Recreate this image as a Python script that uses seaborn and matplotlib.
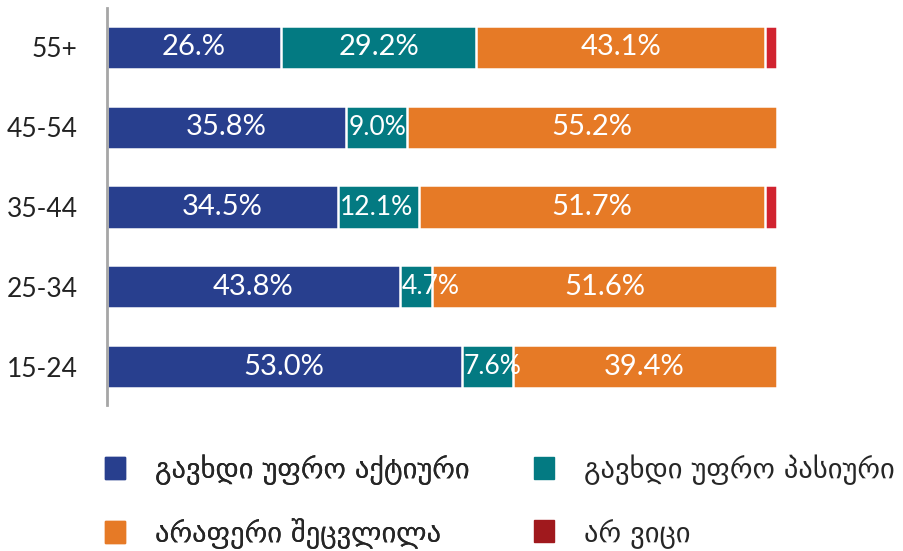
import numpy as np
import pandas as pd
import matplotlib.pyplot as plt
import seaborn as sns
from matplotlib.patches import Patch

# data
age_groups = ["55+", "45-54", "35-44", "25-34", "15-24"]
more_active = [26.0, 35.8, 34.5, 43.8, 53.0]
more_passive = [29.2, 9.0, 12.1, 4.7, 7.6]
nothing_changed = [43.1, 55.2, 51.7, 51.6, 39.4]
dont_know = [1.7, 0.0, 1.7, 0.0, 0.0]
active_labels = ["26.%", "35.8%", "34.5%", "43.8%", "53.0%"]
passive_labels = ["29.2%", "9.0%", "12.1%", "4.7%", "7.6%"]
nothing_labels = ["43.1%", "55.2%", "51.7%", "51.6%", "39.4%"]

series_names = ["გავხდი უფრო აქტიური", "გავხდი უფრო პასიური",
                "არაფერი შეცვლილა", "არ ვიცი"]
COLORS = ["#283f8e", "#037a82", "#e67a26", "#d1232f"]
LEGEND_COLORS = ["#283f8e", "#037a82", "#e67a26", "#a0191d"]

sns.set_theme(style="white")
plt.rcParams['font.family'] = ['Lato', 'DejaVu Sans']

df = pd.DataFrame({
    "age": age_groups,
    "active": more_active,
    "passive": more_passive,
    "nothing": nothing_changed,
    "dk": dont_know,
})
# cumulative totals, drawn back to front so each layer covers the next
df["c1"] = df["active"]
df["c2"] = df["c1"] + df["passive"]
df["c3"] = df["c2"] + df["nothing"]
df["c4"] = df["c3"] + df["dk"]

fig = plt.figure(figsize=(9.04, 5.51), dpi=100)
ax = fig.add_axes([0.118, 0.265, 0.741, 0.72])

for col, color in zip(["c4", "c3", "c2", "c1"], COLORS[::-1]):
    sns.barplot(data=df, x=col, y="age", order=age_groups, color=color,
                width=0.54, edgecolor="white", linewidth=1.8, ax=ax,
                saturation=1, orient="h")

# segment labels (narrow segments get a left-anchored, smaller label)
for i in range(len(age_groups)):
    segs = [(0, df["c1"][i], active_labels[i]),
            (df["c1"][i], df["c2"][i], passive_labels[i]),
            (df["c2"][i], df["c3"][i], nothing_labels[i])]
    for lo, hi, lab in segs:
        if hi - lo < 13:
            ax.text(lo + 0.3, i, lab, ha="left", va="center",
                    color="white", fontsize=19)
        else:
            ax.text((lo + hi) / 2, i, lab, ha="center", va="center",
                    color="white", fontsize=21)

ax.set_xlim(0, 100)
ax.set_ylim(4.48, -0.49)
ax.set_xlabel("")
ax.set_ylabel("")
ax.set_xticks([])
ax.tick_params(axis="y", length=0, labelsize=19, labelcolor="#222222", pad=21)
for s in ["top", "right", "bottom"]:
    ax.spines[s].set_visible(False)
ax.spines["left"].set_color("#a6a6a6")
ax.spines["left"].set_linewidth(2)

handles = [Patch(color=c) for c in LEGEND_COLORS]
leg_kw = dict(loc="upper left", frameon=False, borderpad=0, borderaxespad=0,
              handlelength=0.7, handleheight=0.8, handletextpad=1.05,
              labelspacing=1.15, prop={"family": "DejaVu Sans", "size": 20.5})
leg1 = fig.legend([handles[0], handles[2]], [series_names[0], series_names[2]],
                  bbox_to_anchor=(0.116, 0.175), **leg_kw)
fig.add_artist(leg1)
fig.legend([handles[1], handles[3]], [series_names[1], series_names[3]],
           bbox_to_anchor=(0.591, 0.175), **leg_kw)

fig.savefig("out.png", dpi=100)
